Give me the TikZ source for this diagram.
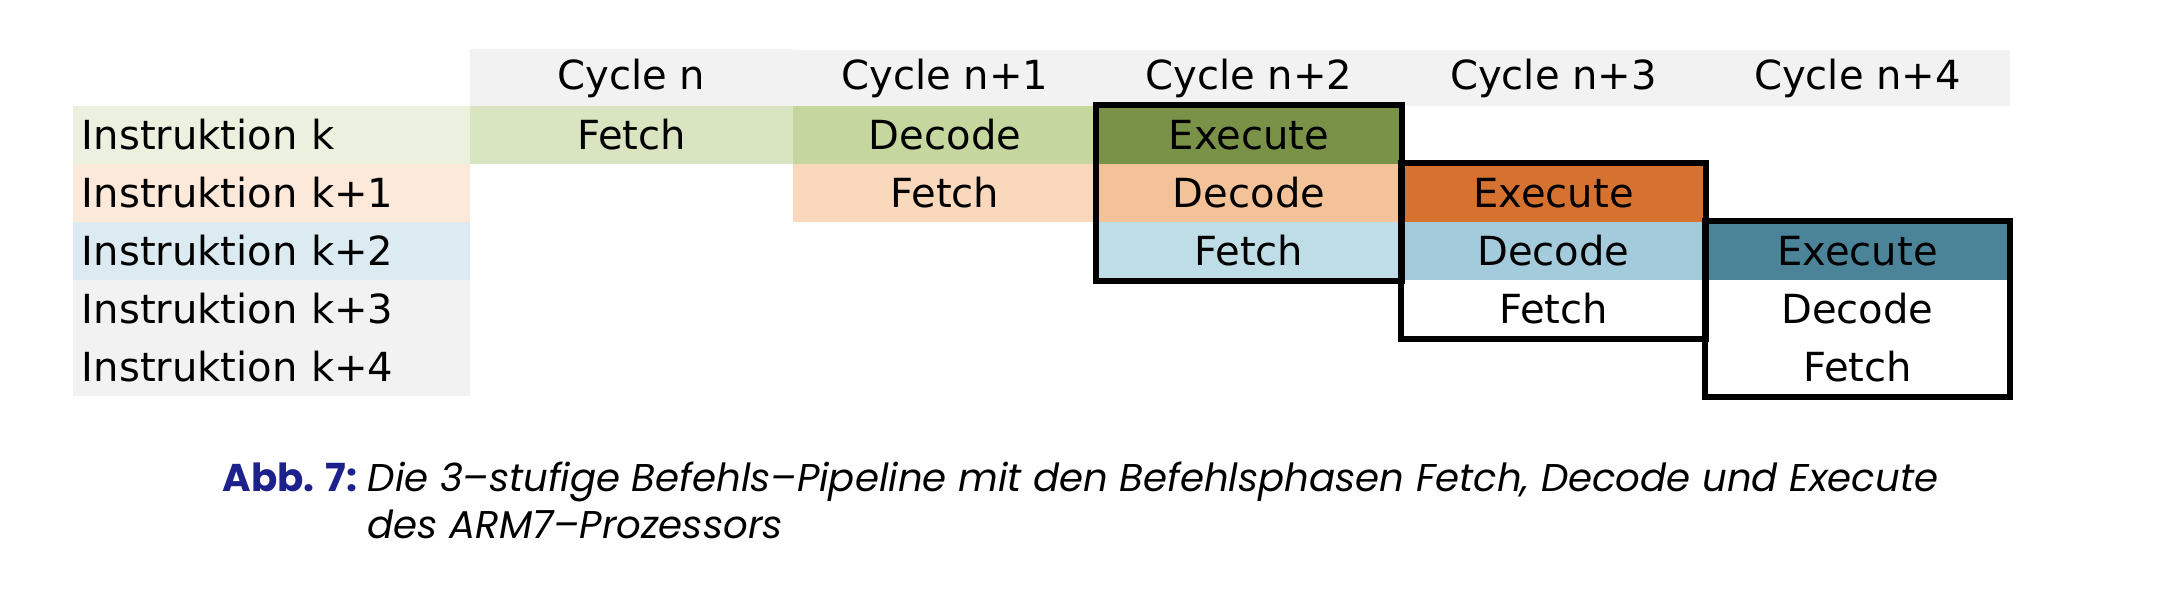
\documentclass[tikz,border=0pt]{standalone}
\usepackage{fontspec}
\setmainfont{DejaVu Sans}
\newfontfamily\capfont{Poppins}
\usetikzlibrary{positioning}

\definecolor{headgray}{HTML}{F2F2F2}
\definecolor{lblgreen}{HTML}{EBF1DE}
\definecolor{lblorange}{HTML}{FCE9DA}
\definecolor{lblblue}{HTML}{DCEBF1}
\definecolor{fetchgreen}{HTML}{D9E4C0}
\definecolor{decgreen}{HTML}{C5D69E}
\definecolor{exegreen}{HTML}{7A9148}
\definecolor{fetchorange}{HTML}{F9D8BC}
\definecolor{decorange}{HTML}{F3C299}
\definecolor{exeorange}{HTML}{D5722F}
\definecolor{fetchblue}{HTML}{BEDDE7}
\definecolor{decblue}{HTML}{A3CBDB}
\definecolor{exeblue}{HTML}{4B8399}
\definecolor{capblue}{HTML}{1C218C}

\begin{document}
\begin{tikzpicture}[x=0.01cm,y=-0.01cm,
  cell/.style={minimum width=3.04cm,minimum height=0.58cm,inner sep=0pt,
    font=\fontsize{11.4}{13}\selectfont},
  widecell/.style={cell,minimum width=3.23cm},
  headcell/.style={cell,minimum height=0.56cm,fill=headgray},
  lbl/.style={cell,minimum width=3.97cm,text width=3.79cm,align=left,
    inner xsep=0.09cm},
  stagebox/.style={line width=0.06cm},
  captext/.style={anchor=base west,inner sep=0pt,
    font=\capfont\fontsize{11}{13.4}\selectfont}]
  \useasboundingbox (0,0) rectangle (2182,602);
  % header row: the clock cycles
  \node[headcell,widecell] (cn)  at (631.5,78) {Cycle n};
  \node[headcell] (cn1) at (945,78)    {Cycle n+1};
  \node[headcell] (cn2) at (1249,78)   {Cycle n+2};
  \node[headcell] (cn3) at (1553.5,78) {Cycle n+3};
  \node[headcell] (cn4) at (1857.5,78) {Cycle n+4};
  % left column: the instructions
  \node[lbl,fill=lblgreen]  (lk)  at (271.5,135) {Instruktion k};
  \node[lbl,fill=lblorange] (lk1) at (271.5,193) {Instruktion k+1};
  \node[lbl,fill=lblblue]   (lk2) at (271.5,251) {Instruktion k+2};
  \node[lbl,fill=headgray]  (lk3) at (271.5,309) {Instruktion k+3};
  \node[lbl,fill=headgray]  (lk4) at (271.5,367) {Instruktion k+4};
  % instruction k
  \node[widecell,fill=fetchgreen] (fk) at (631.5,135) {Fetch};
  \node[cell,fill=decgreen] (dk) at (945,135)  {Decode};
  \node[cell,fill=exegreen] (ek) at (1249,135) {Execute};
  % instruction k+1
  \node[cell,fill=fetchorange] (fk1) at (945,193)    {Fetch};
  \node[cell,fill=decorange]   (dk1) at (1249,193)   {Decode};
  \node[cell,fill=exeorange]   (ek1) at (1553.5,193) {Execute};
  % instruction k+2
  \node[cell,fill=fetchblue] (fk2) at (1249,251)   {Fetch};
  \node[cell,fill=decblue]   (dk2) at (1553.5,251) {Decode};
  \node[cell,fill=exeblue]   (ek2) at (1857.5,251) {Execute};
  % instructions k+3 and k+4 (no fill)
  \node[cell] (fk3) at (1553.5,309) {Fetch};
  \node[cell] (dk3) at (1857.5,309) {Decode};
  \node[cell] (fk4) at (1857.5,367) {Fetch};
  % frames round the three stages of one cycle
  \draw[stagebox] (ek.north west) rectangle (fk2.south east);
  \draw[stagebox] (ek1.north west) rectangle (fk3.south east);
  \draw[stagebox] (ek2.north west) rectangle (fk4.south east);
  % caption
  \node[captext,text=capblue] (abb) at (222,491) {\bfseries Abb. 7:};
  \node[captext] (captxt) at (367,491)
    {\itshape\begin{tabular}[t]{@{}l@{}}
      Die 3–stufige Befehls–Pipeline mit den Befehlsphasen Fetch, Decode und Execute\\
      des ARM7–Prozessors\end{tabular}};
\end{tikzpicture}
\end{document}
